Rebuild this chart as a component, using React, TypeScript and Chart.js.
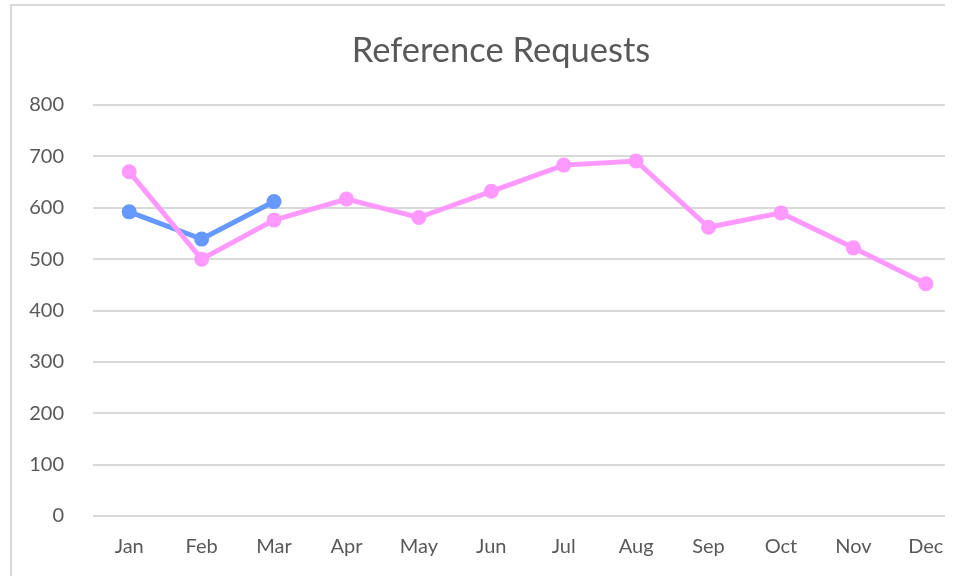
import React, { useEffect, useRef } from "react";
import { Chart, registerables } from "chart.js";

Chart.register(...registerables);

const months = ["Jan", "Feb", "Mar", "Apr", "May", "Jun", "Jul", "Aug", "Sep", "Oct", "Nov", "Dec"];
const seriesPink = [670, 500, 576, 617, 581, 632, 683, 691, 562, 590, 522, 452];
const seriesBlue = [592, 539, 612, null, null, null, null, null, null, null, null, null];
const yTicks = { min: 0, max: 800, step: 100 };
const titleText = "Reference Requests";

const CANVAS_W = 1040;
const CANVAS_H = 600;

export default function App() {
  const ref = useRef<HTMLCanvasElement | null>(null);

  useEffect(() => {
    if (!ref.current) return;
    const font = "Lato";
    const chart = new Chart(ref.current, {
      type: "line",
      data: {
        labels: months,
        datasets: [
          {
            data: seriesPink,
            borderColor: "#FF99FF",
            backgroundColor: "#FF99FF",
            pointBackgroundColor: "#FF99FF",
            pointBorderColor: "#FF99FF",
            borderWidth: 5,
            pointRadius: 7.5,
            pointBorderWidth: 0,
            tension: 0,
          },
          {
            data: seriesBlue,
            borderColor: "#6699FF",
            backgroundColor: "#6699FF",
            pointBackgroundColor: "#6699FF",
            pointBorderColor: "#6699FF",
            borderWidth: 5,
            pointRadius: 7.5,
            pointBorderWidth: 0,
            tension: 0,
            spanGaps: false,
          },
        ],
      },
      options: {
        animation: false,
        responsive: false,
        devicePixelRatio: 1,
        layout: { padding: { left: 0, right: 38, top: 0, bottom: 0 } },
        plugins: {
          legend: { display: false },
          tooltip: { enabled: false },
          title: {
            display: true,
            text: titleText,
            color: "#595959",
            font: { family: font, size: 34.5, weight: "normal", lineHeight: 1.2 },
            padding: { top: 30, bottom: 33.6 },
          },
        },
        scales: {
          x: {
            offset: true,
            grid: { display: false, drawTicks: false },
            border: { display: false },
            ticks: {
              color: "#595959",
              font: { family: font, size: 20, lineHeight: 1.2 },
              padding: 19,
              maxRotation: 0,
              autoSkip: false,
            },
            afterFit: (s: any) => {
              s.height = CANVAS_H - 516;
            },
          },
          y: {
            min: yTicks.min,
            max: yTicks.max,
            grid: { color: "#D9D9D9", lineWidth: 2, drawTicks: false },
            border: { display: false },
            ticks: {
              stepSize: yTicks.step,
              color: "#595959",
              font: { family: font, size: 20, lineHeight: 1.2 },
              padding: 29,
            },
            afterFit: (s: any) => {
              s.width = 93;
            },
          },
          yRight: {
            type: "linear",
            position: "right",
            display: true,
            min: yTicks.min,
            max: yTicks.max,
            grid: { display: false, drawTicks: false },
            border: { display: false },
            ticks: { display: false },
            afterFit: (s: any) => {
              s.width = 40;
            },
          },
        },
      },
    });
    return () => chart.destroy();
  }, []);

  return (
    <div
      style={{
        position: "fixed",
        left: 0,
        top: 0,
        width: 945,
        height: 576,
        overflow: "hidden",
        background: "#fff",
      }}
    >
      <div
        style={{
          position: "absolute",
          left: 10,
          top: 4,
          width: 1100,
          height: 800,
          border: "2px solid #D9D9D9",
          boxSizing: "border-box",
        }}
      />
      <canvas
        ref={ref}
        width={CANVAS_W}
        height={CANVAS_H}
        style={{ position: "absolute", left: 0, top: 0, width: CANVAS_W, height: CANVAS_H }}
      />
    </div>
  );
}
